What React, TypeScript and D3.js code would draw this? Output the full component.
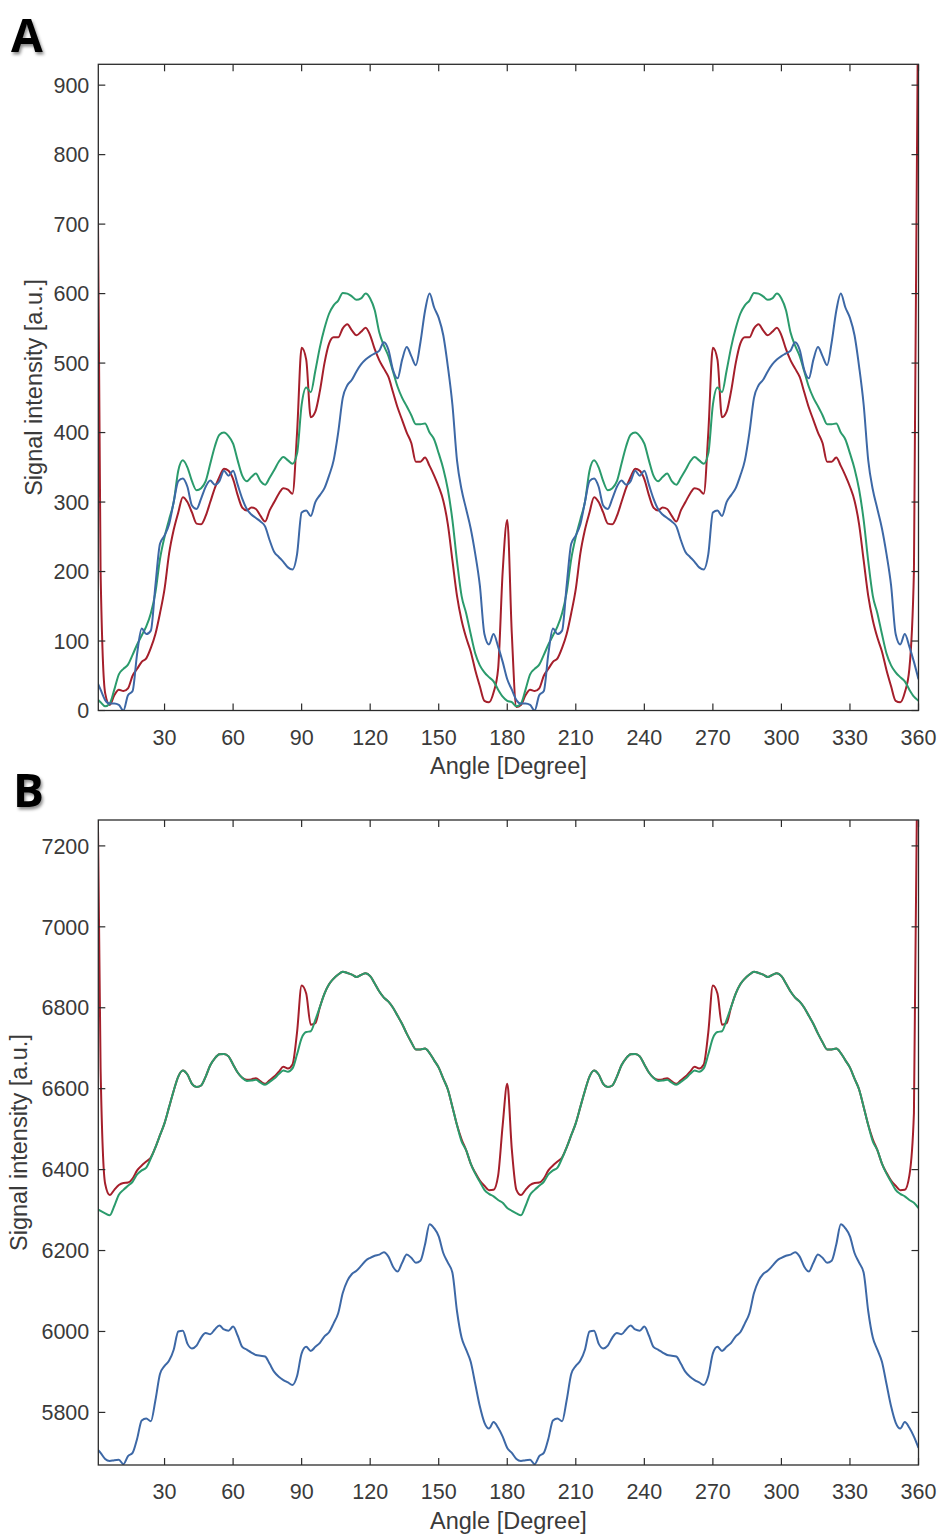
import React from "react";
import * as d3 from "d3";

// Angles sampled every 2 degrees (0..360)
const ANGLES: number[] = d3.range(0, 361, 2);
const X_TICKS = [30, 60, 90, 120, 150, 180, 210, 240, 270, 300, 330, 360];
const Y_TICKS_A = [0, 100, 200, 300, 400, 500, 600, 700, 800, 900];
const Y_TICKS_B = [5800, 6000, 6200, 6400, 6600, 6800, 7000, 7200];

// Panel A series
const A_RED = [
  1100, 200, 25, 8, 22, 30, 28, 32, 50, 60,
  70, 75, 90, 110, 140, 175, 226, 260, 285, 307,
  300, 285, 269, 268, 280, 300, 320, 336, 348, 345,
  333, 310, 292, 288, 292, 290, 280, 272, 288, 300,
  312, 320, 318, 312, 400, 522, 505, 422, 430, 460,
  500, 528, 537, 537, 550, 556, 547, 540, 545, 551,
  540, 520, 504, 492, 480, 458, 436, 418, 400, 385,
  358, 358, 364, 352, 338, 322, 302, 268, 216, 165,
  130, 105, 85, 58, 35, 14, 12, 26, 60, 200,
  274,
  110, 5, 8, 22, 30, 28, 32, 50, 60,
  70, 75, 90, 110, 140, 175, 226, 260, 285, 307,
  300, 285, 269, 268, 280, 300, 320, 336, 348, 345,
  333, 310, 292, 288, 292, 290, 280, 272, 288, 300,
  312, 320, 318, 312, 400, 522, 505, 422, 430, 460,
  500, 528, 537, 537, 550, 556, 547, 540, 545, 551,
  540, 520, 504, 492, 480, 458, 436, 418, 400, 385,
  358, 358, 364, 352, 338, 322, 302, 268, 216, 165,
  130, 105, 85, 58, 35, 14, 12, 26, 60, 200,
  1100,
];
const A_GREEN = [
  18, 12, 6, 10, 30, 52, 60, 66, 80, 95,
  108, 121, 140, 170, 218, 250, 275, 300, 345, 360,
  350, 330, 317, 320, 330, 355, 380, 397, 400, 395,
  384, 360, 338, 330, 336, 341, 330, 325, 335, 346,
  358, 365, 360, 355, 370, 440, 465, 458, 489, 523,
  550, 571, 583, 590, 601, 600, 596, 591, 593, 600,
  593, 576, 544, 525, 510, 488, 466, 450, 438, 425,
  412, 412, 413, 400, 390, 370, 348, 318, 274, 215,
  165, 140, 110, 82, 65, 55, 48, 42, 30, 20,
  14,
  12, 6, 10, 30, 52, 60, 66, 80, 95,
  108, 121, 140, 170, 218, 250, 275, 300, 345, 360,
  350, 330, 317, 320, 330, 355, 380, 397, 400, 395,
  384, 360, 338, 330, 336, 341, 330, 325, 335, 346,
  358, 365, 360, 355, 370, 440, 465, 458, 489, 523,
  550, 571, 583, 590, 601, 600, 596, 591, 593, 600,
  593, 576, 544, 525, 510, 488, 466, 450, 438, 425,
  412, 412, 413, 400, 390, 370, 348, 318, 274, 215,
  165, 140, 110, 82, 65, 55, 48, 42, 30, 20,
  14,
];
const A_BLUE = [
  45, 30, 15, 10, 10, 8, 0, 22, 28, 82,
  118, 110, 115, 180, 240, 252, 268, 300, 330, 334,
  322, 295, 290, 305, 322, 331, 325, 330, 345, 338,
  345, 325, 305, 290, 282, 277, 272, 265, 245, 228,
  221, 214, 206, 203, 225, 285, 288, 280, 300, 310,
  320, 338, 360, 400, 450, 468, 476, 488, 498, 505,
  510, 514, 518, 530, 519, 490, 478, 505, 523, 510,
  497, 530, 575, 600, 580, 565, 540, 495, 440, 360,
  318, 290, 262, 225, 180, 110, 95, 110, 92, 70,
  45,
  30, 15, 10, 10, 8, 0, 22, 28, 82,
  118, 110, 115, 180, 240, 252, 268, 300, 330, 334,
  322, 295, 290, 305, 322, 331, 325, 330, 345, 338,
  345, 325, 305, 290, 282, 277, 272, 265, 245, 228,
  221, 214, 206, 203, 225, 285, 288, 280, 300, 310,
  320, 338, 360, 400, 450, 468, 476, 488, 498, 505,
  510, 514, 518, 530, 519, 490, 478, 505, 523, 510,
  497, 530, 575, 600, 580, 565, 540, 495, 440, 360,
  318, 290, 262, 225, 180, 110, 95, 110, 92, 70,
  45,
];

// Panel B series
const B_RED = [
  7700, 6650, 6365, 6337, 6350, 6362, 6367, 6368, 6378, 6398,
  6410, 6420, 6430, 6455, 6485, 6515, 6555, 6595, 6630, 6645,
  6635, 6612, 6604, 6608, 6630, 6658, 6675, 6685, 6686, 6680,
  6660, 6640, 6627, 6622, 6623, 6626, 6618, 6612, 6621, 6630,
  6642, 6654, 6650, 6660, 6740, 6855, 6835, 6758, 6762, 6802,
  6835, 6858, 6872, 6882, 6889, 6886, 6882, 6876, 6881, 6885,
  6878, 6860, 6840, 6825, 6815, 6800, 6780, 6760, 6736, 6715,
  6697, 6697, 6699, 6688, 6670, 6652, 6625, 6598, 6555, 6510,
  6475, 6448, 6415, 6392, 6373, 6360, 6349, 6350, 6385, 6510,
  6612,
  6450, 6350, 6337, 6350, 6362, 6367, 6368, 6378, 6398,
  6410, 6420, 6430, 6455, 6485, 6515, 6555, 6595, 6630, 6645,
  6635, 6612, 6604, 6608, 6630, 6658, 6675, 6685, 6686, 6680,
  6660, 6640, 6627, 6622, 6623, 6626, 6618, 6612, 6621, 6630,
  6642, 6654, 6650, 6660, 6740, 6855, 6835, 6758, 6762, 6802,
  6835, 6858, 6872, 6882, 6889, 6886, 6882, 6876, 6881, 6885,
  6878, 6860, 6840, 6825, 6815, 6800, 6780, 6760, 6736, 6715,
  6697, 6697, 6699, 6688, 6670, 6652, 6625, 6598, 6555, 6510,
  6475, 6448, 6415, 6392, 6373, 6360, 6349, 6350, 6385, 6540,
  7700,
];
const B_GREEN = [
  6305, 6298, 6292, 6287, 6310, 6338, 6350, 6360, 6370, 6388,
  6398, 6405, 6428, 6455, 6485, 6515, 6555, 6595, 6630, 6645,
  6635, 6612, 6604, 6608, 6630, 6658, 6675, 6685, 6686, 6680,
  6660, 6640, 6627, 6619, 6620, 6622, 6615, 6610, 6617, 6625,
  6636, 6645, 6642, 6650, 6685, 6725, 6740, 6742, 6770, 6802,
  6835, 6858, 6872, 6882, 6889, 6886, 6882, 6876, 6881, 6885,
  6878, 6860, 6840, 6825, 6815, 6800, 6780, 6760, 6736, 6715,
  6697, 6697, 6699, 6688, 6670, 6652, 6625, 6598, 6555, 6510,
  6470, 6448, 6415, 6390, 6370, 6350, 6340, 6334, 6325, 6318,
  6305,
  6298, 6292, 6287, 6310, 6338, 6350, 6360, 6370, 6388,
  6398, 6405, 6428, 6455, 6485, 6515, 6555, 6595, 6630, 6645,
  6635, 6612, 6604, 6608, 6630, 6658, 6675, 6685, 6686, 6680,
  6660, 6640, 6627, 6619, 6620, 6622, 6615, 6610, 6617, 6625,
  6636, 6645, 6642, 6650, 6685, 6725, 6740, 6742, 6770, 6802,
  6835, 6858, 6872, 6882, 6889, 6886, 6882, 6876, 6881, 6885,
  6878, 6860, 6840, 6825, 6815, 6800, 6780, 6760, 6736, 6715,
  6697, 6697, 6699, 6688, 6670, 6652, 6625, 6598, 6555, 6510,
  6470, 6448, 6415, 6390, 6370, 6350, 6340, 6334, 6325, 6318,
  6305,
];
const B_BLUE = [
  5712, 5700, 5685, 5680, 5682, 5683, 5672, 5692, 5700, 5735,
  5780, 5785, 5778, 5830, 5895, 5915, 5928, 5955, 6000, 6002,
  5970, 5958, 5965, 5985, 5996, 5993, 6005, 6015, 6005, 6002,
  6012, 5990, 5962, 5955, 5948, 5942, 5940, 5938, 5920, 5900,
  5888, 5880, 5874, 5868, 5890, 5946, 5962, 5952, 5962, 5972,
  5988, 5998, 6020, 6045, 6095, 6125, 6142, 6150, 6162, 6175,
  6182, 6187, 6190, 6196, 6185, 6160, 6148, 6170, 6190, 6182,
  6170, 6175, 6215, 6265, 6255, 6235, 6194, 6170, 6145, 6050,
  5985, 5955, 5925, 5870, 5815, 5775, 5760, 5776, 5762, 5740,
  5712,
  5700, 5685, 5680, 5682, 5683, 5672, 5692, 5700, 5735,
  5780, 5785, 5778, 5830, 5895, 5915, 5928, 5955, 6000, 6002,
  5970, 5958, 5965, 5985, 5996, 5993, 6005, 6015, 6005, 6002,
  6012, 5990, 5962, 5955, 5948, 5942, 5940, 5938, 5920, 5900,
  5888, 5880, 5874, 5868, 5890, 5946, 5962, 5952, 5962, 5972,
  5988, 5998, 6020, 6045, 6095, 6125, 6142, 6150, 6162, 6175,
  6182, 6187, 6190, 6196, 6185, 6160, 6148, 6170, 6190, 6182,
  6170, 6175, 6215, 6265, 6255, 6235, 6194, 6170, 6145, 6050,
  5985, 5955, 5925, 5870, 5815, 5775, 5760, 5776, 5762, 5740,
  5712,
];

const RED = "#a51f2b";
const GREEN = "#2b9b6c";
const BLUE = "#3d68a6";
const AXIS = "#2b2b2b";
const TEXT = "#3a3a3a";
const FONT = "'Liberation Sans', Arial, Helvetica, sans-serif";

type PanelProps = {
  id: string;
  letter: string;
  letterX: number;
  letterY: number;
  top: number;
  bottom: number;
  yDomain: [number, number];
  yTicks: number[];
  series: { values: number[]; color: string }[];
  yTitleX: number;
};

const LEFT = 98.3;
const RIGHT = 918.5;

function Panel(p: PanelProps) {
  const x = d3.scaleLinear().domain([1, 360]).range([LEFT, RIGHT]);
  const y = d3.scaleLinear().domain(p.yDomain).range([p.bottom, p.top]);
  const line = d3
    .line<number>()
    .x((_, i) => x(ANGLES[i]))
    .y((v) => y(v))
    .curve(d3.curveMonotoneX);
  const tl = 7;
  const midY = (p.top + p.bottom) / 2;
  const midX = (LEFT + RIGHT) / 2;
  return (
    <g>
      <defs>
        <clipPath id={`clip-${p.id}`}>
          <rect x={LEFT} y={p.top} width={RIGHT - LEFT} height={p.bottom - p.top} />
        </clipPath>
      </defs>
      <text
        x={p.letterX}
        y={p.letterY}
        fontFamily="'Open Sans', 'Liberation Sans', Arial, sans-serif"
        fontWeight="bold"
        fontSize={46}
        fill="#000"
        filter="url(#shadow)"
      >
        {p.letter}
      </text>
      <g clipPath={`url(#clip-${p.id})`}>
        {p.series.map((s, k) => (
          <path
            key={k}
            d={line(s.values) || ""}
            fill="none"
            stroke={s.color}
            strokeWidth={2}
            strokeLinejoin="round"
          />
        ))}
      </g>
      <rect
        x={LEFT}
        y={p.top}
        width={RIGHT - LEFT}
        height={p.bottom - p.top}
        fill="none"
        stroke={AXIS}
        strokeWidth={1.3}
      />
      {X_TICKS.map((t) => (
        <g key={`xt${t}`}>
          <line x1={x(t)} x2={x(t)} y1={p.bottom} y2={p.bottom - tl} stroke={AXIS} strokeWidth={1.2} />
          <line x1={x(t)} x2={x(t)} y1={p.top} y2={p.top + tl} stroke={AXIS} strokeWidth={1.2} />
          <text
            x={x(t)}
            y={p.bottom + 34}
            textAnchor="middle"
            fontFamily={FONT}
            fontSize={21.5}
            fill={TEXT}
          >
            {t}
          </text>
        </g>
      ))}
      {p.yTicks.map((t) => (
        <g key={`yt${t}`}>
          <line x1={LEFT} x2={LEFT + tl} y1={y(t)} y2={y(t)} stroke={AXIS} strokeWidth={1.2} />
          <line x1={RIGHT} x2={RIGHT - tl} y1={y(t)} y2={y(t)} stroke={AXIS} strokeWidth={1.2} />
          <text
            x={LEFT - 9}
            y={y(t)}
            dy="0.36em"
            textAnchor="end"
            fontFamily={FONT}
            fontSize={21.5}
            fill={TEXT}
          >
            {t}
          </text>
        </g>
      ))}
      <text
        x={midX}
        y={p.bottom + 63.5}
        textAnchor="middle"
        fontFamily={FONT}
        fontSize={23.5}
        fill={TEXT}
      >
        Angle [Degree]
      </text>
      <text
        transform={`translate(${p.yTitleX},${midY}) rotate(-90)`}
        textAnchor="middle"
        fontFamily={FONT}
        fontSize={23.5}
        fill={TEXT}
      >
        Signal intensity [a.u.]
      </text>
    </g>
  );
}

export default function App() {
  return (
    <svg
      width={942}
      height={1538}
      viewBox="0 0 942 1538"
      style={{ position: "absolute", left: 0, top: 0, background: "#fff" }}
    >
      <defs>
        <filter id="shadow" x="-30%" y="-30%" width="160%" height="160%">
          <feDropShadow dx="1.5" dy="2.5" stdDeviation="1.6" floodColor="#000" floodOpacity="0.45" />
        </filter>
      </defs>
      <rect x={0} y={0} width={942} height={1538} fill="#fff" />
      <Panel
        id="a"
        letter="A"
        letterX={11}
        letterY={52}
        top={64.3}
        bottom={710.5}
        yDomain={[0, 930]}
        yTicks={Y_TICKS_A}
        yTitleX={42}
        series={[
          { values: A_RED, color: RED },
          { values: A_GREEN, color: GREEN },
          { values: A_BLUE, color: BLUE },
        ]}
      />
      <Panel
        id="b"
        letter="B"
        letterX={13}
        letterY={807}
        top={820}
        bottom={1465}
        yDomain={[5670, 7264]}
        yTicks={Y_TICKS_B}
        yTitleX={27}
        series={[
          { values: B_RED, color: RED },
          { values: B_GREEN, color: GREEN },
          { values: B_BLUE, color: BLUE },
        ]}
      />
    </svg>
  );
}
